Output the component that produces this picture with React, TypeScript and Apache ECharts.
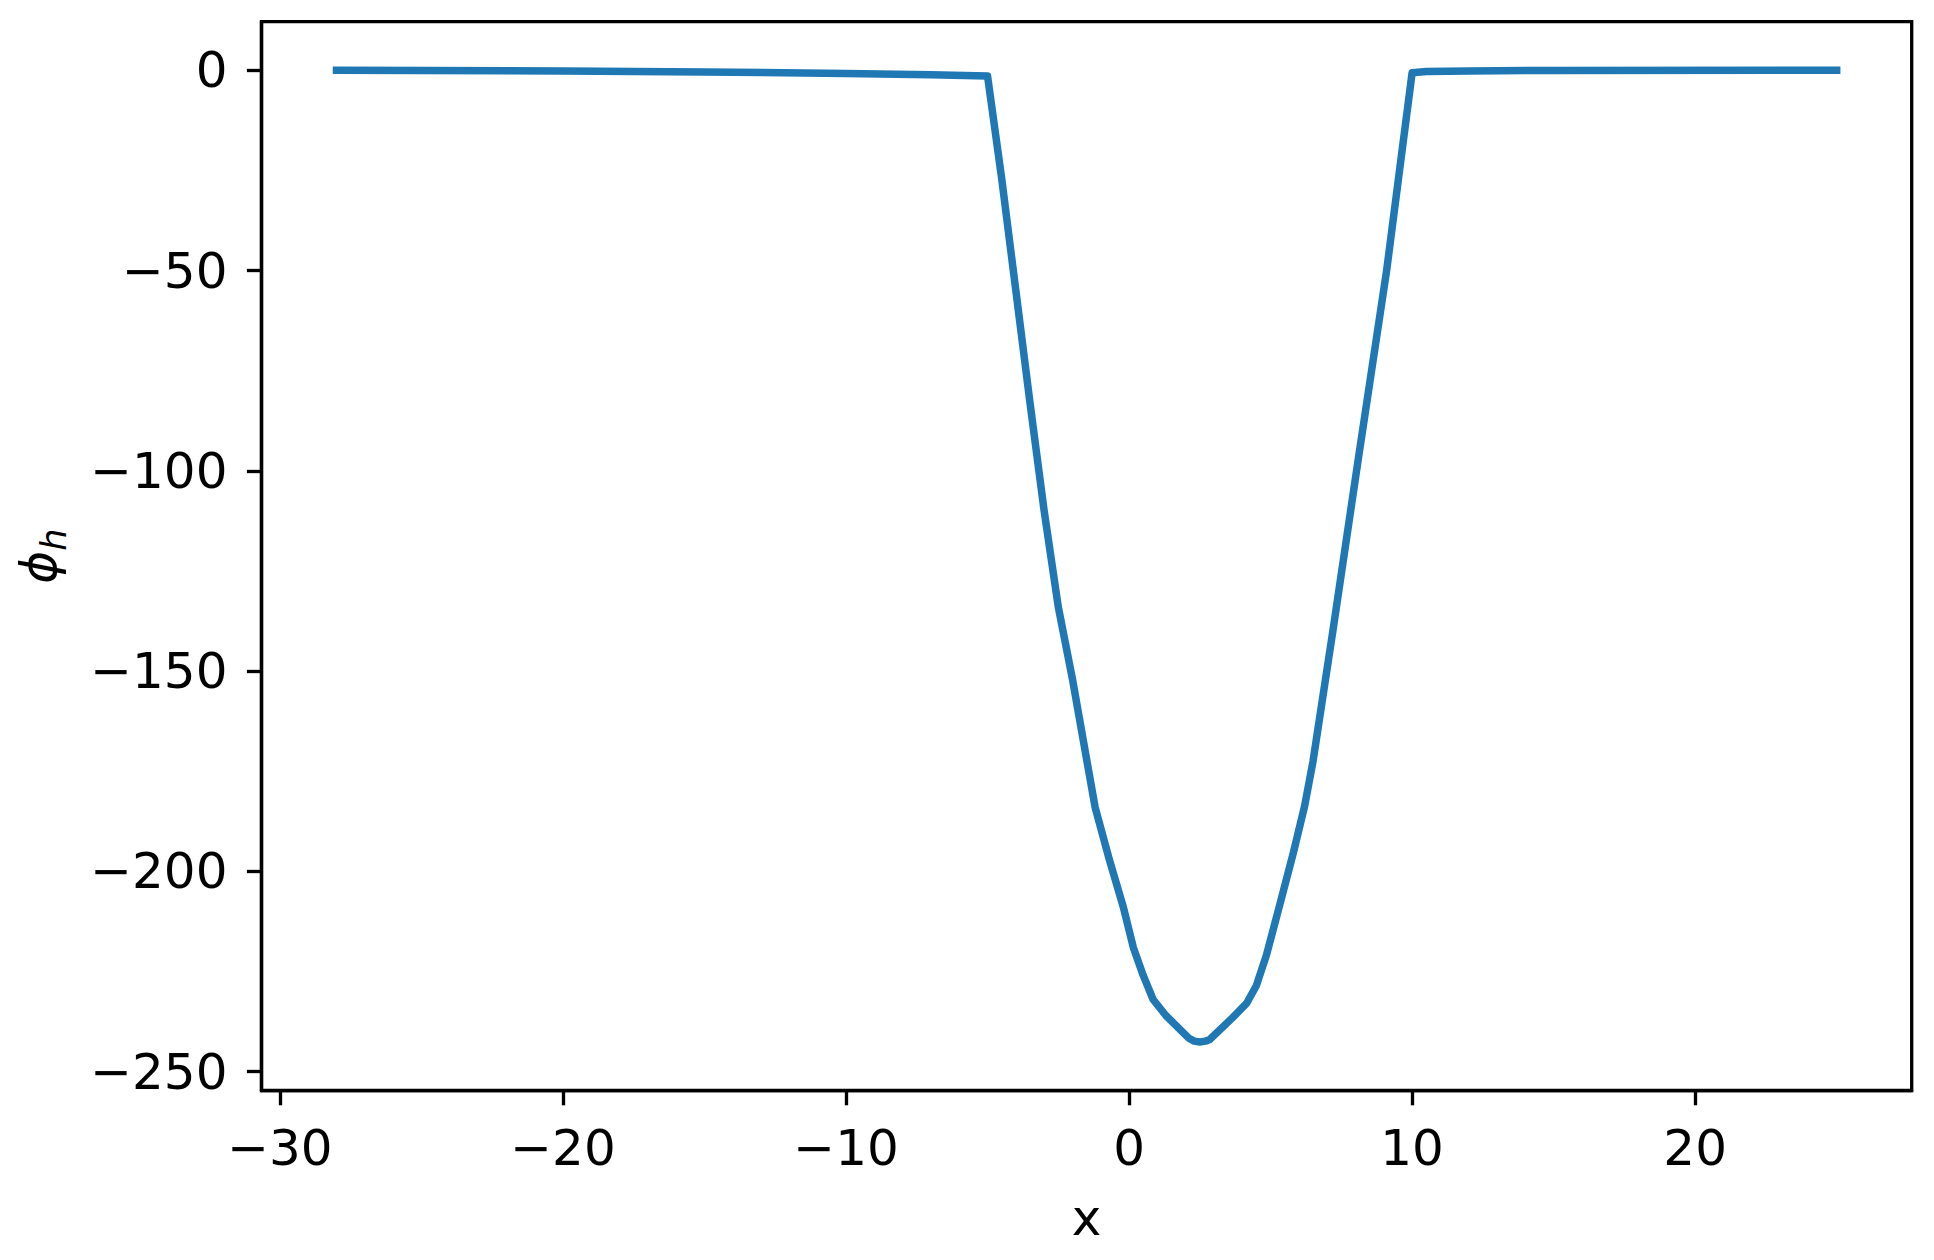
import React, { useEffect, useRef } from "react";
import * as echarts from "echarts";

const xValues = [
  -28, -20, -15, -10, -7, -5, -4.5, -4, -3.5, -3, -2.5, -2, -1.6, -1.2, -0.7, -0.2, 0.15, 0.5, 0.85, 1.3,
  2.1, 2.3, 2.5, 2.7, 2.85, 3.65, 4.15, 4.5, 4.85, 5.3, 5.8, 6.2, 6.5, 7.2, 8.1, 9.1, 10, 10.5, 12, 15, 25,
];
const phiValues = [
  0, -0.15, -0.4, -0.8, -1.1, -1.4, -27, -55, -83, -110, -134, -152, -168, -184, -197, -209, -219, -226, -232, -236,
  -241.6, -242.4, -242.6, -242.4, -242, -236.6, -233, -228.5, -221, -209, -195.5, -183.8, -172.5, -140, -97, -50,
  -0.6, -0.3, -0.15, -0.05, 0,
];
const xTicks = [-30, -20, -10, 0, 10, 20];
const yTicks = [0, -50, -100, -150, -200, -250];

const FONT = "DejaVu Sans";
const FS = 50;

const fmt = (v: number) => (v < 0 ? "\u2212" + Math.abs(v) : String(v));

export default function App() {
  const ref = useRef<HTMLDivElement>(null);
  useEffect(() => {
    if (!ref.current) return;
    const chart = echarts.init(ref.current, undefined, { renderer: "svg" });
    const data = xValues.map((x, i) => [x, phiValues[i]]);
    chart.setOption({
      animation: false,
      backgroundColor: "#ffffff",
      grid: {
        left: 261.5,
        right: 22.3,
        top: 21.7,
        bottom: 169.3,
        show: true,
        borderColor: "#000000",
        borderWidth: 3.33,
        backgroundColor: "transparent",
      },
      xAxis: {
        type: "value",
        min: -30.65,
        max: 27.65,
        name: "x",
        nameLocation: "middle",
        nameGap: 102,
        nameTextStyle: { fontFamily: FONT, fontSize: FS, color: "#000" },
        axisLine: { show: true, onZero: false, lineStyle: { color: "#000", width: 3.33 } },
        axisTick: { show: true, length: 14.6, lineStyle: { color: "#000", width: 3.33 }, customValues: xTicks },
        axisLabel: {
          fontFamily: FONT,
          fontSize: FS,
          color: "#000",
          margin: 32,
          customValues: xTicks,
          formatter: fmt,
        },
        splitLine: { show: false },
      },
      yAxis: {
        type: "value",
        min: -254.78,
        max: 12.13,
        name: "{p|ϕ}{s|h}",
        nameLocation: "middle",
        nameRotate: 90,
        nameGap: 190,
        nameTextStyle: {
          fontFamily: FONT,
          color: "#000",
          rich: {
            p: { fontFamily: FONT, fontStyle: "italic", fontSize: FS, lineHeight: 66, color: "#000" },
            s: {
              fontFamily: FONT,
              fontStyle: "italic",
              fontSize: 35,
              lineHeight: 35,
              verticalAlign: "bottom",
              color: "#000",
            },
          },
        },
        axisLine: { show: true, onZero: false, lineStyle: { color: "#000", width: 3.33 } },
        axisTick: { show: true, length: 14.6, lineStyle: { color: "#000", width: 3.33 }, customValues: yTicks },
        axisLabel: {
          fontFamily: FONT,
          fontSize: FS,
          color: "#000",
          margin: 34,
          customValues: yTicks,
          formatter: fmt,
        },
        splitLine: { show: false },
      },
      series: [
        {
          type: "line",
          data,
          showSymbol: false,
          symbol: "none",
          smooth: false,
          lineStyle: { color: "#1f77b4", width: 7.5, join: "round", cap: "square" },
          clip: true,
        },
      ],
    });
    return () => chart.dispose();
  }, []);
  return (
    <div
      ref={ref}
      style={{ position: "fixed", left: 0, top: 0, width: 1934, height: 1260, background: "#fff" }}
    />
  );
}
